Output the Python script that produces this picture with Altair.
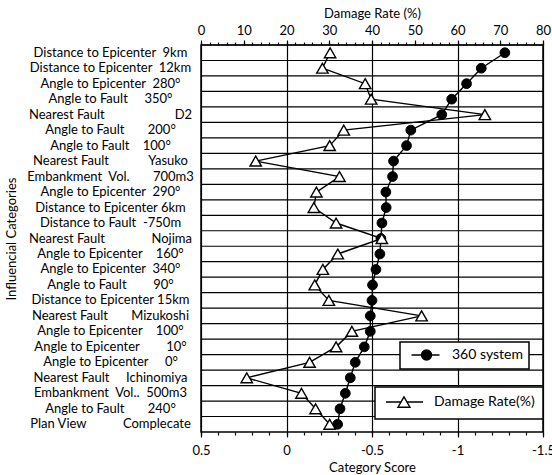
import altair as alt
import pandas as pd

NB = "\u00a0"
FONT = "Lato"

# Category name / category level for each row (top to bottom)
names = [
    "Distance to Epicenter", "Distance to Epicenter", "Angle to Epicenter",
    "Angle to Fault", "Nearest Fault", "Angle to Fault", "Angle to Fault",
    "Nearest Fault", "Embankment" + NB * 2 + "Vol.", "Angle to Epicenter",
    "Distance to Epicenter", "Distance to Fault", "Nearest Fault",
    "Angle to Epicenter", "Angle to Epicenter", "Angle to Fault",
    "Distance to Epicenter", "Nearest Fault", "Angle to Epicenter",
    "Angle to Epicenter", "Angle to Epicenter", "Nearest Fault",
    "Embankment" + NB * 2 + "Vol..", "Angle to Fault", "Plan View",
]
levels = [
    "9km", "12km", "280°", "350°", "D2", "200°", "100°", "Yasuko", "700m3",
    "290°", "6km", "-750m", "Nojima", "160°", "340°", "90°", "15km",
    "Mizukoshi", "100°", "10°", "0°", "Ichinomiya", "500m3", "240°",
    "Complecate",
]
# spacing between name and level inside each label
gaps = [2, 2, 2, 5, 21, 7, 4, 12, 7, 2, 1, 2, 14, 4, 2, 8, 1, 7, 4, 8, 5, 5, 2, 7, 11]

# Category score (360 system)
scores = [
    -1.277, -1.139, -1.053, -0.966, -0.908, -0.727, -0.702, -0.626, -0.620,
    -0.581, -0.583, -0.558, -0.552, -0.546, -0.523, -0.503, -0.500, -0.490,
    -0.490, -0.455, -0.402, -0.373, -0.344, -0.313, -0.299,
]
# Damage rate (%)
rates = [
    30.2, 28.4, 38.4, 39.8, 66.4, 33.4, 30.1, 12.8, 32.4, 27.0, 26.4, 31.6,
    42.3, 32.0, 28.5, 26.6, 29.9, 51.6, 35.3, 31.6, 25.4, 10.7, 23.5, 26.8,
    30.1,
]

labels = [n + NB * g + l for n, g, l in zip(names, gaps, levels)]
df = pd.DataFrame({"label": labels, "score": scores, "rate": rates,
                   "idx": list(range(len(labels)))})

y_axis = alt.Axis(
    title="Influencial Categories", labelAlign="center", labelBaseline="middle",
    labelPadding=91, ticks=False, tickSize=0, domain=False, grid=False,
    labelFont=FONT, labelFontSize=13, labelColor="black", labelLimit=400,
    titleFont=FONT, titleFontSize=13, titleColor="black", titleFontWeight="normal",
    titleX=-183,
)
y_scale = alt.Scale(type="band", paddingInner=0, paddingOuter=0)


def y_enc(**kw):
    return alt.Y("label:N", sort=labels, scale=y_scale, axis=y_axis, **kw)


score_scale = alt.Scale(domain=[0.5, -1.5], nice=False, zero=False)
rate_scale = alt.Scale(domain=[0, 80], nice=False, zero=False)

common_axis = dict(labelFont=FONT, labelFontSize=13, labelColor="black",
                   titleFont=FONT, titleFontSize=13, titleColor="black",
                   titleFontWeight="normal", tickColor="black", tickWidth=1.2,
                   domain=False, labelFlush=False, labelOverlap=False)

score_major = alt.Axis(
    orient="bottom", values=[0.5, 0, -0.5, -1, -1.5],
    labelExpr="toString(datum.value)", tickSize=5, labelPadding=7,
    grid=True, gridColor="black", gridWidth=1.2, gridOpacity=1,
    title="Category Score", titleY=39, titleBaseline="alphabetic", **common_axis,
)
score_minor = alt.Axis(
    orient="bottom", values=[round(0.5 - 0.1 * i, 2) for i in range(21)],
    labels=False, tickSize=3, grid=False, title=None,
    tickColor="black", tickWidth=1.2, domain=False,
)
rate_major = alt.Axis(
    orient="top", values=list(range(0, 81, 10)), tickSize=5, labelPadding=3,
    grid=False, title="Damage Rate (%)", titleY=-28, titleBaseline="alphabetic",
    **common_axis,
)
rate_minor = alt.Axis(
    orient="top", values=list(range(0, 81, 2)), labels=False, tickSize=3,
    grid=False, title=None, tickColor="black", tickWidth=1.2, domain=False,
)

base = alt.Chart(df)

# horizontal separators between category rows
row_lines = base.mark_rule(color="black", strokeWidth=1.2).encode(
    y=y_enc(bandPosition=0)
)

score_line = base.mark_line(color="black", strokeWidth=1.4).encode(
    x=alt.X("score:Q", scale=score_scale, axis=score_minor),
    y=y_enc(), order="idx:Q",
)
score_pts = base.mark_point(
    filled=True, size=95, opacity=1, stroke="black", strokeWidth=1
).transform_calculate(series="'360 system'").encode(
    x=alt.X("score:Q", scale=score_scale, axis=score_major),
    y=y_enc(),
    fill=alt.Fill("series:N", scale=alt.Scale(domain=["360 system"], range=["black"]),
                  legend=alt.Legend(
                      orient="none", legendX=199, legendY=297, title=None,
                      strokeColor="black", fillColor="white", padding=6,
                      labelFont=FONT, labelFontSize=14, labelColor="black",
                      symbolType="M-0.27,0H4.82M3.37,0A0.91,0.91,0,1,1,1.55,0A0.91,0.91,0,1,1,3.37,0Z",
                      symbolSize=121, symbolStrokeWidth=1.4, symbolStrokeColor="black",
                      symbolFillColor="black", labelOffset=32,
                  )),
)

rate_line = base.mark_line(color="black", strokeWidth=1.4).encode(
    x=alt.X("rate:Q", scale=rate_scale, axis=rate_minor),
    y=y_enc(), order="idx:Q",
)
rate_pts = base.mark_point(
    shape="triangle-up", filled=True, fill="white", size=130, opacity=1,
    strokeWidth=1.4,
).transform_calculate(series2="'Damage Rate(%)'").encode(
    x=alt.X("rate:Q", scale=rate_scale, axis=rate_major),
    y=y_enc(),
    stroke=alt.Stroke("series2:N",
                      scale=alt.Scale(domain=["Damage Rate(%)"], range=["black"]),
                      legend=alt.Legend(
                          orient="none", legendX=174, legendY=342, title=None,
                          strokeColor="black", fillColor="white", padding=8,
                          labelFont=FONT, labelFontSize=14, labelColor="black",
                          symbolType="M-0.67,0H1.83M2.83,0H5.5M2.33,-0.87L1.33,0.87L3.33,0.87Z",
                          symbolSize=144, symbolStrokeWidth=1.4,
                          symbolFillColor="white", labelOffset=37,
                      )),
)

score_layer = alt.layer(score_line, score_pts).resolve_axis(x="independent")
rate_layer = alt.layer(rate_line, rate_pts).resolve_axis(x="independent")

chart = (
    alt.layer(row_lines, score_layer, rate_layer)
    .resolve_scale(x="independent")
    .properties(
        width=342, height=387,
        autosize=alt.AutoSizeParams(type="none"),
        padding={"left": 201, "top": 45, "right": 9, "bottom": 43},
        background="white",
    )
    .configure_view(stroke="black", strokeWidth=1.5)
    .configure_legend(strokeWidth=1.5)
)

chart.save("out.html", embed_options={"renderer": "svg", "actions": False})
